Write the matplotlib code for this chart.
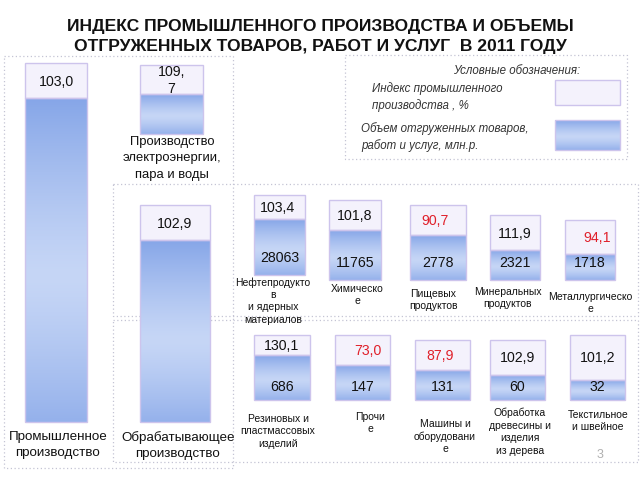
import numpy as np
import matplotlib
matplotlib.use("Agg")
import matplotlib.pyplot as plt
from matplotlib import font_manager
from matplotlib.patches import Rectangle

# ---------------- data ----------------
title_lines = ["ИНДЕКС ПРОМЫШЛЕННОГО ПРОИЗВОДСТВА И ОБЪЕМЫ",
               "ОТГРУЖЕННЫХ ТОВАРОВ, РАБОТ И УСЛУГ  В 2011 ГОДУ"]
categories = ["Промышленное\nпроизводство",
              "Производство\nэлектроэнергии,\nпара и воды",
              "Обрабатывающее\nпроизводство",
              "Нефтепродукто\nв\nи ядерных\nматериалов",
              "Химическо\nе",
              "Пищевых\nпродуктов",
              "Минеральных\nпродуктов",
              "Металлургическо\nе",
              "Резиновых и\nпластмассовых\nизделий",
              "Прочи\nе",
              "Машины и\nоборудовани\nе",
              "Обработка\nдревесины и\nизделия\nиз дерева",
              "Текстильное\nи швейное"]
index_pct = [103.0, 109.7, 102.9, 103.4, 101.8, 90.7, 111.9, 94.1,
             130.1, 73.0, 87.9, 102.9, 101.2]
volume_mln = [None, None, None, 28063, 11765, 2778, 2321, 1718,
              686, 147, 131, 60, 32]
legend_title = "Условные обозначения:"
legend_index = "Индекс промышленного\nпроизводства , %"
legend_volume = "Объем отгруженных товаров,\nработ и услуг, млн.р."
page_no = "3"

# ---------------- layout (pixel coordinates of the slide) ----------------
x_left  = [25, 140, 140, 254, 329, 410, 490, 565, 254, 335, 415, 490, 570]
x_right = [87, 203, 210, 305, 381, 466, 540, 615, 310, 390, 470, 545, 625]
y_top   = [63, 65, 205, 195, 200, 205, 215, 220, 335, 335, 340, 340, 335]
y_split = [98, 94, 240, 219, 230, 235, 250, 254, 355, 365, 370, 375, 380]
y_bot   = [422, 134, 422, 275, 280, 280, 280, 280, 400, 400, 400, 400, 400]
label_x = [58, 172, 178, 273, 357, 433, 508, 590, 278, 370, 445, 520, 598]
label_y = [431, 136, 431, 277, 284, 289, 287, 292, 414, 412, 419, 408, 410]
label_size = [9.6, 9.4, 9.6, 7.5, 7.5, 7.5, 7.5, 7.5, 7.5, 7.5, 7.5, 7.5, 7.5]
label_ls = [1.45, 1.5, 1.45, 1.3, 1.3, 1.3, 1.3, 1.3, 1.3, 1.3, 1.3, 1.3, 1.3]
idx_dx = [0, 0, 0, -2, 0, -3, 0, 7, 0, 5, -2, 0, 0]
wrap_index = [False, True, False, False, False, False, False, False,
              False, False, False, False, False]

# ---------------- fonts ----------------
avail = {f.name for f in font_manager.fontManager.ttflist}
narrow = "Liberation Sans Narrow" if "Liberation Sans Narrow" in avail else "Liberation Sans"
regular = "Liberation Sans" if "Liberation Sans" in avail else "DejaVu Sans"
plt.rcParams["font.family"] = [regular, "DejaVu Sans"]

LAV_FILL = "#f4f2fc"
LAV_EDGE = "#cdc4ec"
BLUE_DARK = np.array([0x86, 0xa6, 0xe8]) / 255
BLUE_LIGHT = np.array([0xc6, 0xd6, 0xf6]) / 255
FRAME = "#c4c4d4"
RED = "#e0202a"

fig = plt.figure(figsize=(6.4, 4.8), dpi=100)
ax = fig.add_axes([0, 0, 1, 1])
ax.set_xlim(0, 640)
ax.set_ylim(480, 0)
ax.axis("off")


def gradient(n=200):
    t = np.linspace(0, 1, n)
    f = np.clip(np.abs(t - 0.55) / 0.55, 0, 1) ** 1.3
    cols = BLUE_LIGHT[None, :] + (BLUE_DARK - BLUE_LIGHT)[None, :] * f[:, None]
    return np.repeat(cols[:, None, :], 2, axis=1)


def blue_block(x0, x1, y0, y1):
    ax.imshow(gradient(), extent=(x0, x1, y1, y0), origin="upper",
              aspect="auto", interpolation="bilinear", zorder=2)
    ax.add_patch(Rectangle((x0, y0), x1 - x0, y1 - y0, fill=False,
                           edgecolor=LAV_EDGE, lw=1.0, zorder=3))


# dotted frames
for (x0, y0, x1, y1) in [(4, 56, 233, 468), (113, 184, 638, 316),
                         (113, 320, 638, 462), (345, 55, 627, 159)]:
    ax.add_patch(Rectangle((x0, y0), x1 - x0, y1 - y0, fill=False,
                           edgecolor=FRAME, lw=0.9, ls=(0, (1, 2)), zorder=1))

# title
for i, line in enumerate(title_lines):
    ax.text(320, 27 + 20 * i, line, ha="center", va="center",
            fontsize=12.6, fontweight="bold", family=[narrow, "DejaVu Sans"],
            color="#111111")

# bars
xc = [(a + b) / 2 for a, b in zip(x_left, x_right)]
wd = [b - a for a, b in zip(x_left, x_right)]
ax.bar(xc, [s - t for s, t in zip(y_split, y_top)], bottom=y_top, width=wd,
       color=LAV_FILL, edgecolor=LAV_EDGE, lw=1.0, zorder=3)
for i in range(len(categories)):
    blue_block(x_left[i], x_right[i], y_split[i], y_bot[i])
    txt = f"{index_pct[i]:.1f}".replace(".", ",")
    if wrap_index[i]:
        txt = txt.replace(",", ",\n")
    col = RED if index_pct[i] < 100 else "#111111"
    ax.text(xc[i] + idx_dx[i], (y_top[i] + y_split[i]) / 2 + 1, txt,
            ha="center", va="center", fontsize=10.2, color=col,
            family=[narrow, "DejaVu Sans"], linespacing=1.25, zorder=4)
    if volume_mln[i] is not None:
        vy = y_bot[i] - (17 if y_bot[i] < 300 else 13)
        ax.text(xc[i], vy, str(volume_mln[i]), ha="center", va="center",
                fontsize=10.2, color="#111111", family=[narrow, "DejaVu Sans"],
                zorder=4)
    fam = [narrow, "DejaVu Sans"] if i < 3 else [regular, "DejaVu Sans"]
    ax.text(label_x[i], label_y[i], categories[i], ha="center", va="top",
            fontsize=label_size[i], family=fam, linespacing=label_ls[i],
            color="#111111", zorder=4)

# legend
ax.text(580, 71, legend_title, ha="right", va="center", fontsize=8.3,
        style="italic", color="#333333")
ax.text(372, 97, legend_index, ha="left", va="center", fontsize=8.3,
        style="italic", color="#333333", linespacing=1.35)
ax.text(361, 137, legend_volume, ha="left", va="center", fontsize=8.3,
        style="italic", color="#333333", linespacing=1.35)
ax.add_patch(Rectangle((555, 80), 65, 25, facecolor=LAV_FILL,
                       edgecolor=LAV_EDGE, lw=1.0, zorder=3))
blue_block(555, 620, 120, 150)

ax.text(600, 455, page_no, ha="center", va="center", fontsize=9,
        color="#b0b0b0")

fig.savefig("out.png", dpi=100)
